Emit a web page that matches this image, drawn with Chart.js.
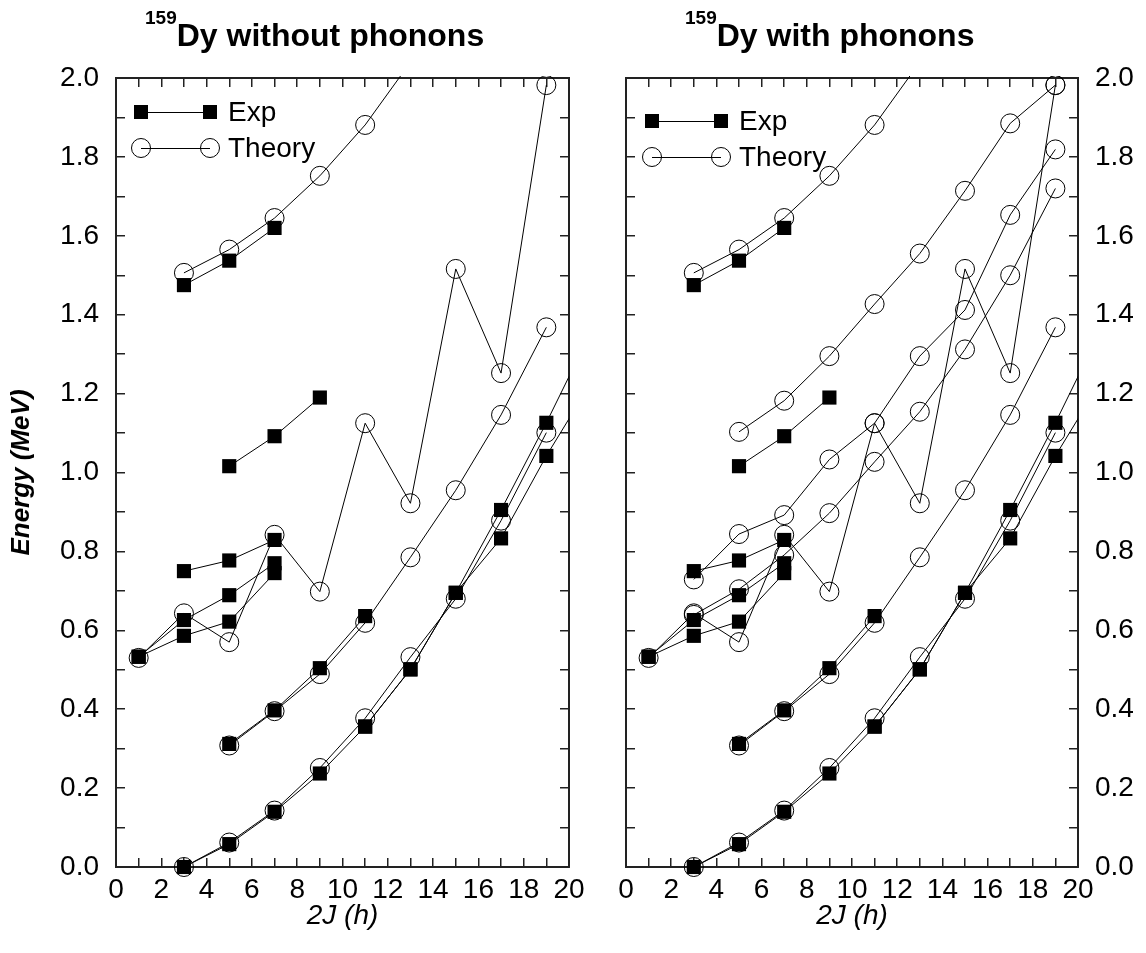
<!DOCTYPE html>
<html>
<head>
<meta charset="utf-8">
<script src="https://cdn.jsdelivr.net/npm/chart.js@4.4.1/dist/chart.umd.min.js"></script>
<style>
  body { margin: 0; background: #fff; }
  #wrap { position: relative; width: 1146px; height: 953px; font-family: "Liberation Sans", Arial, sans-serif; color: #000; }
  canvas { position: absolute; top: 0; }
  .title { position: absolute; top: 15px; font-weight: bold; font-size: 32px; line-height: 40px; white-space: nowrap; }
  .title span { font-size: 19px; line-height: 0; position: relative; top: -22px; }
  .lg { position: absolute; }
  .lg-line { height: 1px; background: #000; }
  .lg-sq { width: 14px; height: 14px; background: #000; }
  .lg-ci { width: 18px; height: 18px; border: 1px solid #000; border-radius: 50%; }
  .lg-txt { font-size: 28px; line-height: 28px; white-space: nowrap; }
</style>
</head>
<body>
<div id="wrap">
  <canvas id="left" width="600" height="953" style="left:0;width:600px;height:953px"></canvas>
  <canvas id="right" width="556" height="953" style="left:590px;width:556px;height:953px"></canvas>
  <div class="title" style="left:145px"><span>159</span>Dy without phonons</div>
  <div class="title" style="left:685px"><span>159</span>Dy with phonons</div>
</div>
<script>
// 2J values, one slot per state; null = no state in that band
const spins = [1, 3, 5, 7, 9, 11, 13, 15, 17, 19, 21];

// experiment (same in both panels)
const expTop = [null, 1.475, 1.537, 1.62, null, null, null, null, null, null, null];
const expK   = [null, null, 1.016, 1.092, 1.19, null, null, null, null, null, null];
const expA   = [null, 0.75, 0.777, 0.829, null, null, null, null, null, null, null];
const expB   = [0.533, 0.626, 0.689, 0.77, null, null, null, null, null, null, null];
const expC   = [0.533, 0.586, 0.622, 0.745, null, null, null, null, null, null, null];
const expMid = [null, null, 0.312, 0.397, 0.504, 0.636, null, null, null, null, null];
const expG1  = [null, 0.0, 0.058, 0.14, 0.237, 0.356, 0.501, 0.695, 0.905, 1.126, 1.36];
const expG2  = [null, null, null, null, null, 0.356, 0.501, 0.695, 0.833, 1.042, 1.23];

// theory without phonons
const thTop = [null, 1.506, 1.565, 1.645, 1.752, 1.881, 2.04, null, null, null, null];
const thZig = [0.53, 0.643, 0.57, 0.842, 0.698, 1.125, 0.922, 1.516, 1.252, 1.982, null];
const thMid = [null, null, 0.308, 0.395, 0.489, 0.619, 0.785, 0.955, 1.146, 1.368, null];
const thG   = [null, 0.0, 0.062, 0.143, 0.251, 0.377, 0.532, 0.68, 0.878, 1.101, null];

// extra theory bands with phonons
const thR0 = [null, null, 1.103, 1.182, 1.295, 1.427, 1.555, 1.714, 1.885, 1.982, null];
const thR1 = [null, 0.729, 0.844, 0.892, 1.033, 1.125, 1.295, 1.412, 1.653, 1.819, null];
const thR2 = [null, 0.639, 0.704, 0.791, 0.897, 1.027, 1.154, 1.312, 1.50, 1.72, null];

const FONT = '"Liberation Sans", Arial, sans-serif';

function pts(vals) {
    return spins.map((j, i) => ({ x: j, y: vals[i] })).filter(p => p.y !== null);
}

function expSet(vals) {
    return {
        label: "Exp",
        data: pts(vals),
        borderColor: "#000",
        borderWidth: 1,
        pointStyle: "rect",
        pointRadius: 10,
        pointBackgroundColor: "#000",
        pointBorderWidth: 0,
        clip: { left: false, top: 2, right: 0, bottom: false },
    };
}

function thSet(vals) {
    return {
        label: "Theory",
        data: pts(vals),
        borderColor: "#000",
        borderWidth: 1,
        pointStyle: "circle",
        pointRadius: 9.5,
        pointBackgroundColor: "rgba(0,0,0,0)",
        pointBorderColor: "#000",
        pointBorderWidth: 1,
        clip: { left: false, top: 2, right: 0, bottom: false },
    };
}

var grid = { display: true, drawOnChartArea: false, drawTicks: true, tickLength: -9, color: "#222", lineWidth: 1.5 };
var border = { display: true, color: "#222", width: 2 };

function xTicks(v) { return v % 2 === 0 ? String(v) : ""; }
function yTicks(v) {
    var k = Math.round(v * 10);
    return k % 2 === 0 ? (k / 10).toFixed(1) : "";
}

// labelSide: where the numbered y axis sits; y2 is the bare mirror axis
function makeScales(labelSide, yWidth, y2Width, withTitle) {
    var other = labelSide === "left" ? "right" : "left";
    return {
        x: {
            type: "linear", position: "bottom", min: 0, max: 20,
            grid: grid, border: border,
            ticks: { stepSize: 1, autoSkip: false, maxRotation: 0, maxTicksLimit: 100, padding: 15,
                     color: "#000", font: { family: FONT, size: 28 }, callback: xTicks },
            title: { display: true, text: "2J (h)", color: "#000",
                     font: { family: FONT, size: 28, style: "italic" }, padding: { top: 0, bottom: 20 } },
            afterFit: function (a) { a.height = 86; },
        },
        x2: {
            type: "linear", position: "top", min: 0, max: 20,
            grid: grid, border: border,
            ticks: { stepSize: 1, autoSkip: false, maxTicksLimit: 100, display: false },
            afterFit: function (a) { a.height = 78; },
        },
        y: {
            type: "linear", position: labelSide, min: 0, max: 2,
            grid: grid, border: border,
            ticks: { stepSize: 0.1, autoSkip: false, maxTicksLimit: 100, padding: 26,
                     color: "#000", font: { family: FONT, size: 28 }, callback: yTicks },
            title: { display: withTitle, text: "Energy (MeV)", color: "#000",
                     font: { family: FONT, size: 26, style: "italic", weight: "bold" }, padding: { top: 6, bottom: 0 } },
            afterFit: function (a) { a.width = yWidth; },
        },
        y2: {
            type: "linear", position: other, min: 0, max: 2,
            grid: grid, border: border,
            ticks: { stepSize: 0.1, autoSkip: false, maxTicksLimit: 100, display: false },
            afterFit: function (a) { a.width = y2Width; },
        },
    };
}

function makeChart(id, sets, labelSide, yWidth, y2Width, withTitle) {
    return new Chart(document.getElementById(id).getContext("2d"), {
        type: "line",
        data: { datasets: sets },
        options: {
            responsive: false,
            animation: false,
            devicePixelRatio: 1,
            events: [],
            layout: { padding: 0 },
            plugins: { legend: { display: false }, tooltip: { enabled: false } },
            scales: makeScales(labelSide, yWidth, y2Width, withTitle),
        },
    });
}

var expSets = function () {
    return [expTop, expK, expA, expB, expC, expMid, expG1, expG2].map(expSet);
};

// the "20" label needs ~31px on the right, so the left canvas is 600 wide
var chartLeft = makeChart("left",
    expSets().concat([thTop, thZig, thMid, thG].map(thSet)),
    "left", 116, 31, true);

var chartRight = makeChart("right",
    expSets().concat([thTop, thZig, thMid, thG, thR0, thR1, thR2].map(thSet)),
    "right", 68, 36, false);

// legend boxes inside each panel
function addLegend(m1, m2, y1, y2, tx) {
    var wrap = document.getElementById("wrap");
    function el(cls, css, text) {
        var d = document.createElement("div");
        d.className = "lg " + cls;
        d.style.cssText = css;
        if (text) d.textContent = text;
        wrap.appendChild(d);
    }
    el("lg-line", "left:" + m1 + "px;top:" + (y1 - 0.5) + "px;width:" + (m2 - m1) + "px");
    el("lg-sq", "left:" + (m1 - 7) + "px;top:" + (y1 - 7) + "px");
    el("lg-sq", "left:" + (m2 - 7) + "px;top:" + (y1 - 7) + "px");
    el("lg-txt", "left:" + tx + "px;top:" + (y1 - 14) + "px", "Exp");
    el("lg-line", "left:" + m1 + "px;top:" + (y2 - 0.5) + "px;width:" + (m2 - m1) + "px");
    el("lg-ci", "left:" + (m1 - 10) + "px;top:" + (y2 - 10) + "px");
    el("lg-ci", "left:" + (m2 - 10) + "px;top:" + (y2 - 10) + "px");
    el("lg-txt", "left:" + tx + "px;top:" + (y2 - 14) + "px", "Theory");
}
addLegend(141, 210, 112, 148, 228);
addLegend(652, 721, 121, 157, 739);
</script>
</body>
</html>
